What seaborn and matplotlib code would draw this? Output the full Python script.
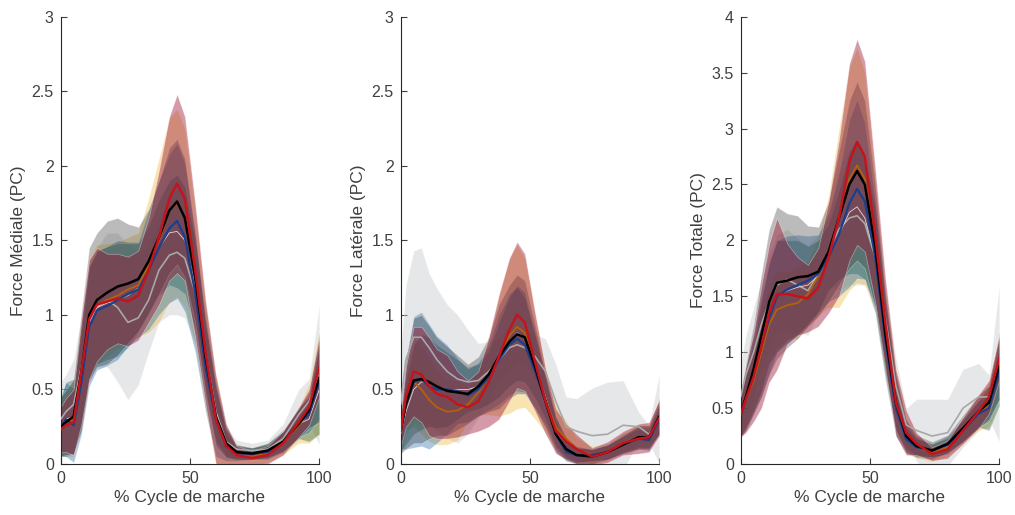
import numpy as np
import pandas as pd
import matplotlib
matplotlib.use("Agg")
import matplotlib.pyplot as plt
import seaborn as sns
from matplotlib.ticker import FormatStrFormatter

# ---------------- data ----------------
cycle = [0, 2, 5, 8, 11, 14, 18, 22, 26, 30, 34, 38, 42, 45, 48, 52, 56, 60, 64, 68, 74, 80, 86, 92, 96, 100]

groups = ["gray", "yellow", "green", "blue", "black", "red"]

# Medial
med_gray_mean   = [0.30,0.35,0.40,0.65,0.95,1.05,1.10,1.05,0.95,0.98,1.10,1.30,1.40,1.42,1.38,1.15,0.75,0.35,0.15,0.10,0.09,0.10,0.17,0.33,0.42,0.60]
med_gray_sd     = [0.25,0.25,0.30,0.35,0.38,0.40,0.45,0.50,0.52,0.45,0.35,0.35,0.40,0.42,0.40,0.35,0.30,0.20,0.10,0.06,0.05,0.06,0.10,0.17,0.15,0.47]
med_black_mean  = [0.25,0.28,0.32,0.62,1.00,1.10,1.15,1.19,1.21,1.24,1.36,1.52,1.70,1.76,1.65,1.25,0.72,0.32,0.14,0.08,0.07,0.09,0.15,0.27,0.36,0.58]
med_black_sd    = [0.20,0.22,0.25,0.40,0.45,0.45,0.48,0.46,0.40,0.35,0.35,0.38,0.42,0.42,0.40,0.30,0.25,0.20,0.10,0.05,0.04,0.05,0.07,0.10,0.12,0.30]
med_blue_mean   = [0.25,0.30,0.26,0.55,0.92,1.03,1.06,1.10,1.14,1.17,1.30,1.45,1.58,1.63,1.52,1.15,0.65,0.30,0.12,0.07,0.07,0.08,0.15,0.28,0.33,0.55]
med_blue_sd     = [0.20,0.25,0.25,0.35,0.40,0.40,0.40,0.40,0.35,0.32,0.40,0.45,0.50,0.52,0.50,0.40,0.30,0.25,0.10,0.05,0.04,0.05,0.07,0.10,0.12,0.25]
med_green_mean  = [0.25,0.30,0.32,0.60,0.95,1.05,1.08,1.10,1.13,1.18,1.30,1.45,1.55,1.56,1.50,1.20,0.75,0.35,0.15,0.08,0.07,0.09,0.16,0.27,0.30,0.50]
med_green_sd    = [0.20,0.25,0.25,0.35,0.38,0.38,0.38,0.38,0.35,0.30,0.30,0.32,0.35,0.38,0.36,0.30,0.25,0.20,0.10,0.05,0.04,0.05,0.07,0.10,0.15,0.30]
med_yellow_mean = [0.25,0.27,0.30,0.60,0.97,1.07,1.10,1.13,1.17,1.20,1.33,1.50,1.70,1.75,1.65,1.25,0.72,0.30,0.12,0.06,0.05,0.07,0.14,0.26,0.34,0.55]
med_yellow_sd   = [0.20,0.22,0.25,0.35,0.40,0.40,0.38,0.36,0.35,0.35,0.45,0.55,0.62,0.63,0.60,0.45,0.35,0.30,0.12,0.07,0.06,0.06,0.08,0.12,0.20,0.35]
med_red_mean    = [0.23,0.26,0.28,0.62,0.97,1.07,1.09,1.11,1.09,1.13,1.30,1.52,1.78,1.88,1.78,1.30,0.75,0.30,0.12,0.06,0.04,0.06,0.14,0.28,0.38,0.65]
med_red_sd      = [0.15,0.18,0.22,0.35,0.40,0.38,0.32,0.30,0.30,0.30,0.35,0.45,0.55,0.60,0.55,0.45,0.35,0.30,0.15,0.06,0.05,0.06,0.08,0.10,0.12,0.20]

# Lateral
lat_gray_mean   = [0.40,0.70,0.85,0.85,0.78,0.70,0.62,0.57,0.55,0.56,0.62,0.70,0.78,0.80,0.78,0.72,0.62,0.42,0.25,0.22,0.19,0.20,0.26,0.25,0.20,0.30]
lat_gray_sd     = [0.35,0.50,0.58,0.60,0.50,0.48,0.45,0.43,0.35,0.25,0.20,0.15,0.15,0.12,0.12,0.15,0.22,0.25,0.20,0.22,0.32,0.35,0.30,0.10,0.06,0.30]
lat_black_mean  = [0.22,0.40,0.56,0.57,0.55,0.52,0.49,0.48,0.47,0.52,0.60,0.72,0.82,0.87,0.85,0.65,0.42,0.20,0.10,0.06,0.05,0.08,0.13,0.18,0.18,0.32]
lat_black_sd    = [0.15,0.30,0.42,0.43,0.38,0.33,0.30,0.25,0.20,0.20,0.25,0.35,0.38,0.40,0.38,0.28,0.18,0.12,0.08,0.06,0.05,0.05,0.06,0.08,0.08,0.12]
lat_blue_mean   = [0.22,0.40,0.55,0.57,0.52,0.50,0.50,0.49,0.46,0.50,0.58,0.70,0.80,0.84,0.80,0.62,0.42,0.20,0.08,0.06,0.06,0.08,0.13,0.17,0.16,0.30]
lat_blue_sd     = [0.12,0.30,0.44,0.45,0.42,0.36,0.30,0.22,0.18,0.18,0.22,0.30,0.34,0.35,0.32,0.25,0.16,0.10,0.06,0.05,0.04,0.05,0.06,0.07,0.07,0.10]
lat_green_mean  = [0.20,0.35,0.50,0.55,0.55,0.52,0.50,0.50,0.50,0.52,0.58,0.70,0.82,0.88,0.85,0.66,0.45,0.22,0.10,0.06,0.06,0.08,0.14,0.18,0.18,0.30]
lat_green_sd    = [0.12,0.22,0.30,0.32,0.30,0.28,0.25,0.20,0.15,0.15,0.18,0.25,0.30,0.32,0.30,0.22,0.15,0.10,0.06,0.05,0.04,0.05,0.06,0.07,0.07,0.10]
lat_yellow_mean = [0.22,0.42,0.55,0.50,0.43,0.38,0.35,0.36,0.40,0.48,0.58,0.72,0.86,0.92,0.88,0.65,0.43,0.25,0.17,0.10,0.06,0.08,0.14,0.18,0.18,0.32]
lat_yellow_sd   = [0.12,0.20,0.30,0.30,0.28,0.25,0.22,0.20,0.12,0.15,0.25,0.40,0.52,0.55,0.50,0.35,0.22,0.15,0.12,0.08,0.06,0.06,0.07,0.08,0.08,0.12]
lat_red_mean    = [0.22,0.45,0.62,0.60,0.52,0.47,0.45,0.40,0.38,0.42,0.55,0.72,0.90,1.00,0.95,0.68,0.42,0.22,0.15,0.10,0.05,0.08,0.14,0.17,0.18,0.31]
lat_red_sd      = [0.10,0.20,0.30,0.32,0.33,0.30,0.28,0.22,0.18,0.20,0.30,0.42,0.48,0.49,0.46,0.33,0.22,0.15,0.12,0.10,0.06,0.07,0.08,0.10,0.10,0.12]

# Totale
tot_gray_mean   = [0.60,0.80,1.00,1.25,1.45,1.60,1.65,1.60,1.55,1.70,1.90,2.10,2.20,2.22,2.15,1.85,1.30,0.70,0.35,0.30,0.25,0.28,0.50,0.60,0.60,0.90]
tot_gray_sd     = [0.30,0.35,0.40,0.40,0.42,0.45,0.45,0.42,0.40,0.35,0.30,0.55,0.60,0.62,0.55,0.40,0.30,0.25,0.15,0.28,0.33,0.30,0.35,0.30,0.20,0.70]
tot_black_mean  = [0.44,0.60,0.85,1.15,1.45,1.62,1.64,1.67,1.68,1.72,1.90,2.20,2.50,2.62,2.50,1.95,1.15,0.55,0.25,0.16,0.12,0.18,0.32,0.47,0.55,0.88]
tot_black_sd    = [0.20,0.30,0.40,0.55,0.65,0.68,0.60,0.55,0.45,0.40,0.45,0.60,0.75,0.80,0.75,0.55,0.35,0.25,0.15,0.10,0.08,0.08,0.12,0.15,0.15,0.30]
tot_blue_mean   = [0.45,0.58,0.80,1.05,1.30,1.50,1.56,1.60,1.64,1.70,1.85,2.05,2.33,2.46,2.35,1.85,1.10,0.50,0.22,0.15,0.12,0.17,0.30,0.45,0.50,0.82]
tot_blue_sd     = [0.20,0.28,0.35,0.45,0.50,0.50,0.48,0.45,0.40,0.35,0.40,0.55,0.75,0.80,0.70,0.50,0.35,0.25,0.12,0.08,0.06,0.08,0.10,0.12,0.12,0.25]
tot_green_mean  = [0.45,0.58,0.78,1.05,1.35,1.50,1.55,1.58,1.60,1.68,1.85,2.05,2.25,2.30,2.20,1.85,1.15,0.55,0.25,0.16,0.12,0.16,0.30,0.45,0.50,0.82]
tot_green_sd    = [0.20,0.25,0.30,0.40,0.45,0.50,0.45,0.42,0.35,0.32,0.30,0.40,0.55,0.60,0.55,0.45,0.35,0.25,0.12,0.08,0.06,0.07,0.10,0.12,0.20,0.30]
tot_yellow_mean = [0.44,0.57,0.75,1.00,1.25,1.38,1.42,1.44,1.52,1.68,1.90,2.20,2.55,2.67,2.55,1.95,1.15,0.55,0.25,0.15,0.10,0.15,0.30,0.45,0.53,0.85]
tot_yellow_sd   = [0.20,0.25,0.30,0.35,0.35,0.35,0.30,0.32,0.30,0.35,0.50,0.80,1.00,1.05,0.95,0.60,0.40,0.30,0.15,0.10,0.08,0.08,0.12,0.15,0.20,0.30]
tot_red_mean    = [0.44,0.58,0.78,1.05,1.35,1.52,1.52,1.50,1.48,1.58,1.85,2.20,2.70,2.88,2.75,2.05,1.25,0.55,0.28,0.18,0.09,0.13,0.30,0.47,0.60,0.95]
tot_red_sd      = [0.20,0.30,0.40,0.55,0.62,0.68,0.45,0.35,0.30,0.35,0.50,0.70,0.88,0.92,0.85,0.60,0.40,0.30,0.20,0.10,0.06,0.08,0.12,0.15,0.15,0.20]

panel_titles = ["Force Médiale (PC)", "Force Latérale (PC)", "Force Totale (PC)"]
x_label = "% Cycle de marche"
x_ticks = [0, 50, 100]
y_ticks_list = [[0, 0.5, 1, 1.5, 2, 2.5, 3], [0, 0.5, 1, 1.5, 2, 2.5, 3], [0, 0.5, 1, 1.5, 2, 2.5, 3, 3.5, 4]]
y_max_list = [3, 3, 4]

panels = [
    {"gray": (med_gray_mean, med_gray_sd), "black": (med_black_mean, med_black_sd),
     "blue": (med_blue_mean, med_blue_sd), "green": (med_green_mean, med_green_sd),
     "yellow": (med_yellow_mean, med_yellow_sd), "red": (med_red_mean, med_red_sd)},
    {"gray": (lat_gray_mean, lat_gray_sd), "black": (lat_black_mean, lat_black_sd),
     "blue": (lat_blue_mean, lat_blue_sd), "green": (lat_green_mean, lat_green_sd),
     "yellow": (lat_yellow_mean, lat_yellow_sd), "red": (lat_red_mean, lat_red_sd)},
    {"gray": (tot_gray_mean, tot_gray_sd), "black": (tot_black_mean, tot_black_sd),
     "blue": (tot_blue_mean, tot_blue_sd), "green": (tot_green_mean, tot_green_sd),
     "yellow": (tot_yellow_mean, tot_yellow_sd), "red": (tot_red_mean, tot_red_sd)},
]

# ---------------- style ----------------
band_colors = {"gray": "#c4c7ca", "black": "#3a3a3a", "blue": "#1a66a8",
               "green": "#145a3c", "yellow": "#EDB120", "red": "#9a1030"}
band_alpha = {"gray": 0.42, "black": 0.34, "blue": 0.36, "green": 0.36, "yellow": 0.35, "red": 0.42}
line_colors = {"gray": "#a8a8a8", "green": "#e6d6d6", "yellow": "#b5600a",
               "blue": "#1c3f8c", "black": "#000000", "red": "#c3141c"}
line_widths = {"gray": 1.2, "green": 0.6, "yellow": 1.3, "blue": 1.6, "black": 1.8, "red": 1.8}
line_order = ["gray", "green", "yellow", "blue", "black", "red"]

sns.set_style("ticks")
plt.rcParams["font.family"] = ["Liberation Sans", "DejaVu Sans"]
text_col = "#404040"

fig = plt.figure(figsize=(10.15, 5.15), dpi=100)
lefts = [60.7 / 1015, 400.7 / 1015, 740.7 / 1015]
w = 258.6 / 1015
b = 51 / 515
h = 447.3 / 515

x = np.array(cycle, dtype=float)
for i, pdata in enumerate(panels):
    ax = fig.add_axes([lefts[i], b, w, h])
    for g in groups:
        m, s = pdata[g]
        m = np.array(m); s = np.array(s)
        ax.fill_between(x, m - s, m + s, color=band_colors[g], alpha=band_alpha[g],
                        linewidth=0.5, edgecolor=(1, 1, 1, 0.35), zorder=1)
    rows = []
    for g in line_order:
        m, _ = pdata[g]
        for xv, yv in zip(cycle, m):
            rows.append({"cycle": xv, "force": yv, "group": g})
    df = pd.DataFrame(rows)
    for g in line_order:
        sns.lineplot(data=df[df.group == g], x="cycle", y="force", color=line_colors[g],
                     linewidth=line_widths[g], ax=ax, zorder=3, legend=False)
    ax.set_xlim(0, 100)
    ax.set_ylim(0, y_max_list[i])
    ax.set_xticks(x_ticks)
    ax.set_yticks(y_ticks_list[i])
    ax.yaxis.set_major_formatter(FormatStrFormatter("%g"))
    ax.xaxis.set_major_formatter(FormatStrFormatter("%g"))
    ax.tick_params(direction="in", length=4, width=0.8, colors=text_col, labelsize=11.5, pad=5)
    for side in ["top", "right"]:
        ax.spines[side].set_visible(False)
    for side in ["left", "bottom"]:
        ax.spines[side].set_color("#262626")
        ax.spines[side].set_linewidth(0.8)
    ax.set_xlabel(x_label, fontsize=12.5, color=text_col, labelpad=3)
    ax.set_ylabel(panel_titles[i], fontsize=12.5, color=text_col, labelpad=4)
    ax.set_facecolor("white")

fig.savefig("out.png", dpi=100, facecolor="white")
